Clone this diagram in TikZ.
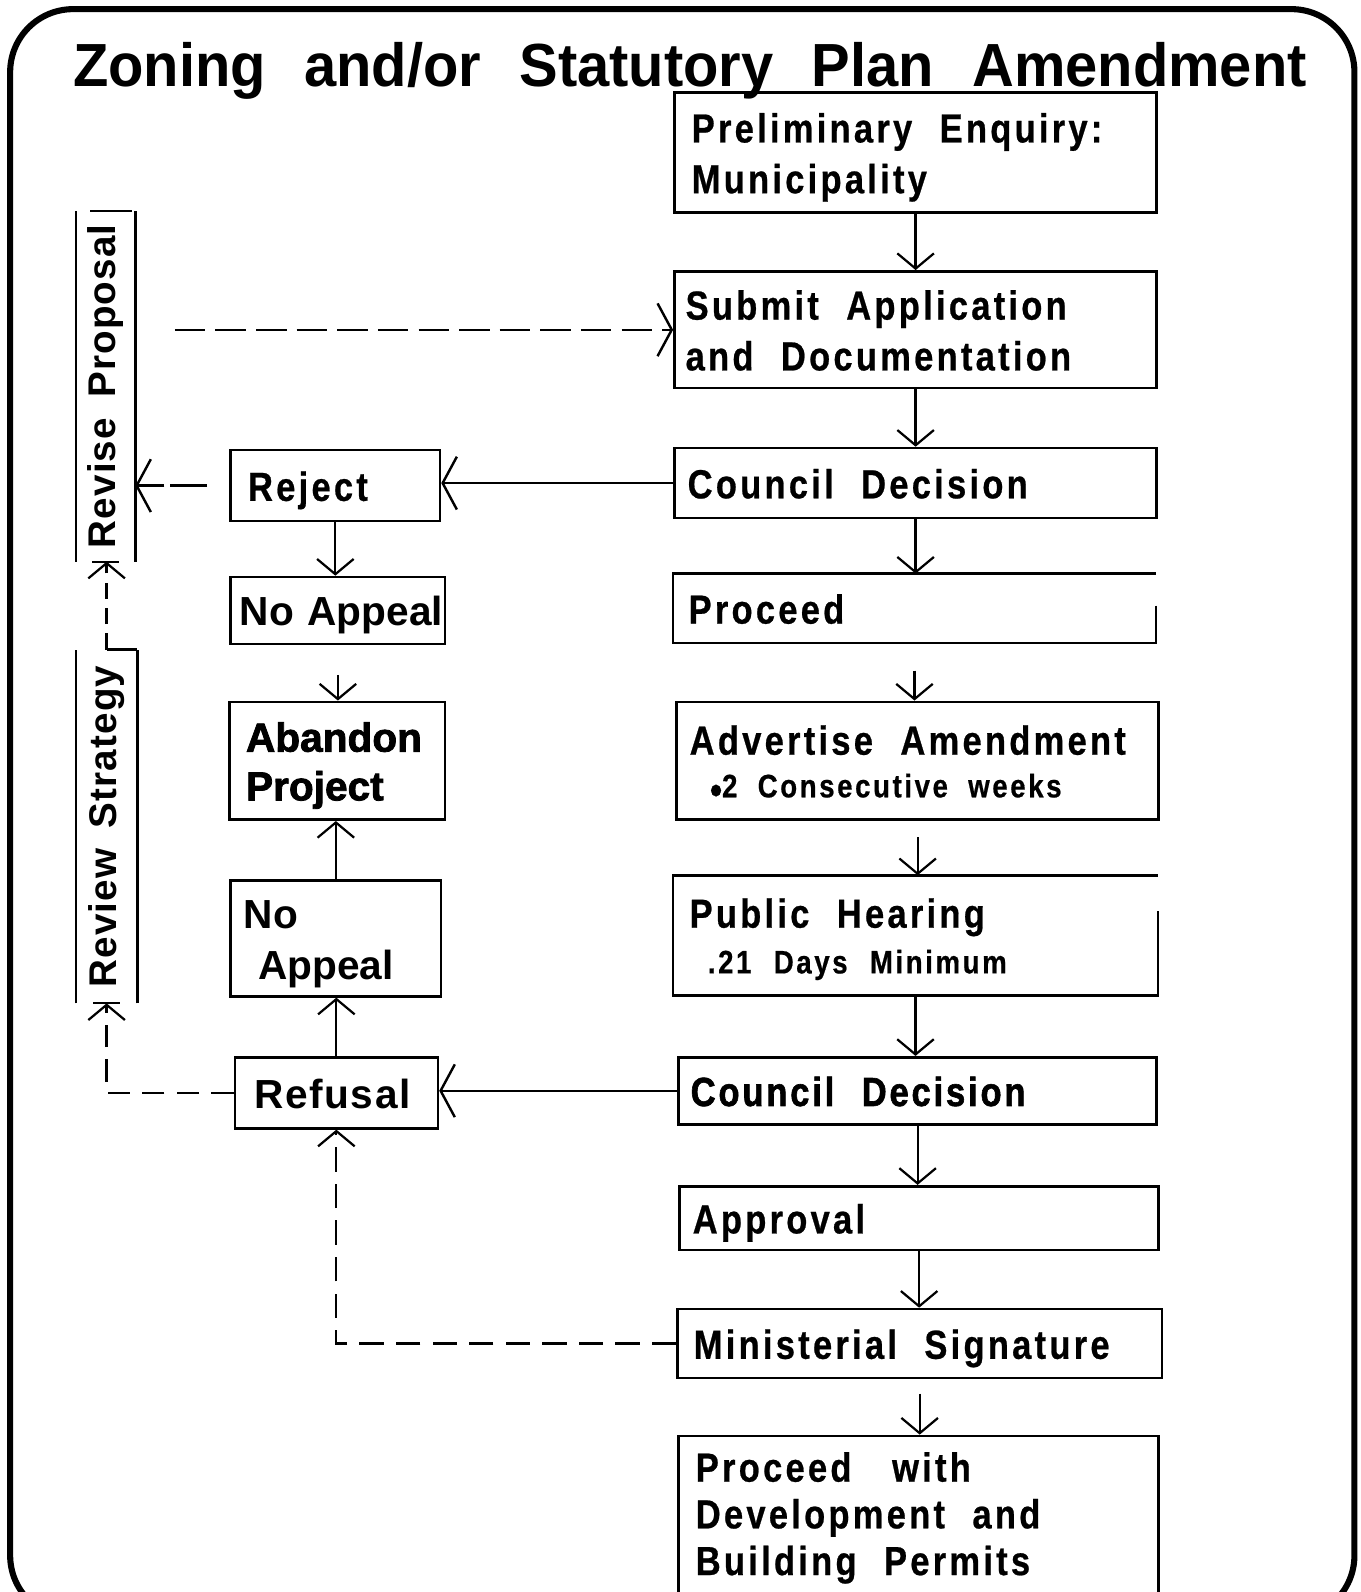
\documentclass[tikz,border=0pt]{standalone}
\usepackage{fontspec}
\setmainfont{Liberation Sans}
\newfontfamily\titlefont[FakeStretch=0.95]{Liberation Sans Bold}
\newfontfamily\condfont[FakeStretch=0.85,LetterSpace=8,FakeBold=0.6]{Liberation Sans Bold}
\newfontfamily\condheavy[FakeStretch=0.85,LetterSpace=7,FakeBold=1.5]{Liberation Sans Bold}
\newfontfamily\widefont{Liberation Sans Bold}
\newfontfamily\spacedfont[LetterSpace=4]{Liberation Sans Bold}
\newfontfamily\heavyfont[FakeBold=2]{Liberation Sans Bold}
\newfontfamily\vertfont[LetterSpace=3]{Liberation Sans Bold}
\usetikzlibrary{arrows.meta,calc}

% one unbreakable line of box text with wide word gaps
\newcommand\wline[2][27pt]{\mbox{\spaceskip=#1 plus 4pt\relax #2}}
% the raised bullet of the sub-lines
\newcommand\dotmark{\raisebox{-6.5pt}{\fontsize{40}{40}\selectfont •}}

\tikzset{
  pbox/.style n args={3}{anchor=north west, inner ysep=0pt, align=left,
    minimum width=#1pt, minimum height=#2pt, inner xsep=#3pt,
    text width={#1pt-2*#3pt}, text depth=0pt,
    execute at begin node={\rule{0pt}{30pt}}},
  edge/.style={draw, line width=2.6pt},
  rfont/.style={font={\condfont\fontsize{40}{50}\selectfont}},
  rheavy/.style={font={\condheavy\fontsize{40}{50}\selectfont}},
  lfont/.style={font={\widefont\fontsize{40}{50}\selectfont}},
  lspaced/.style={font={\spacedfont\fontsize{40}{50}\selectfont}},
  lheavy/.style={font={\heavyfont\fontsize{40}{50}\selectfont}},
  vlabel/.style={rotate=90, inner sep=0pt, minimum height=58pt,
    font={\vertfont\fontsize{38}{40}\selectfont}},
  varr/.style={line width=2.2pt, -{Straight Barb[length=15pt,width=36pt]}},
  harr/.style={line width=2.4pt, -{Straight Barb[length=14pt,width=52pt]}},
  dsh/.style={dash pattern=on 24pt off 12pt},
}

\begin{document}
\begin{tikzpicture}[x=1pt,y=-1pt]
\useasboundingbox (0,0) rectangle (1340,1568);

% outer frame, its lower edge running off the page
\draw[line width=6pt, rounded corners=62pt] (10,9) rectangle (1334,1594);

\node[font={\titlefont\fontsize{60}{72}\selectfont}, anchor=base, inner sep=0pt]
  (title) at (679.5,85) {\makebox[1215pt][s]{Zoning and/or Statutory Plan Amendment}};

% main sequence
\node[pbox={475}{118}{17}, edge, rfont, text depth=50pt] (prelim) at (663,90)
  {\wline{Preliminary Enquiry:}\\\wline{Municipality}};
\node[pbox={475}{115}{11}, edge, rfont, text depth=50pt] (submit) at (663,266)
  {\wline{Submit Application}\\\wline{and Documentation}};
\node[pbox={475}{69}{13}, edge, rfont] (council1) at (663,440) {\wline{Council Decision}};
\node[pbox={475}{68}{15}, rfont] (proceed) at (663,565) {\wline{Proceed}};
\draw[line width=2.6pt] ($(proceed.south east)+(0,-37)$) -- (proceed.south east)
  -- (proceed.south west) -- (proceed.north west) -- (proceed.north east);
\node[pbox={475}{116}{13}, edge, rfont, text depth=42pt] (advertise) at (665,690)
  {\wline{Advertise Amendment}\\[-8pt]\wline[20pt]{\hspace*{20pt}\fontsize{32}{40}\selectfont\dotmark2 Consecutive weeks}};
\node[pbox={477}{118}{16}, rfont, text depth=45pt] (public) at (663,862)
  {\wline{Public Hearing}\\[-5pt]\wline[22pt]{\hspace*{18pt}\fontsize{32}{40}\selectfont .21 Days Minimum}};
\draw[line width=2.6pt] ($(public.south east)+(0,-83)$) -- (public.south east)
  -- (public.south west) -- (public.north west) -- (public.north east);
\node[pbox={471}{66}{12}, edge, rheavy] (council2) at (667,1040) {\wline{Council Decision}};
\node[pbox={472}{63}{13}, edge, rfont] (approval) at (668,1167) {\wline{Approval}};
\node[pbox={477}{68}{16}, edge, rfont] (ministerial) at (666,1288) {\wline{Ministerial Signature}};
% the last box runs on past the lower edge of the page
\node[pbox={473}{200}{17}, edge, rfont, text depth=140pt] (final) at (667,1413)
  {\wline[40pt]{Proceed with}\\[-4pt]\wline{Development and}\\[-4pt]\wline{Building Permits}};

% rejection branch
\node[pbox={206}{70}{17}, edge, rfont] (reject) at (226,442) {\wline{Reject}};
\node[pbox={211}{66}{9}, edge, lfont] (noappealA) at (226,567) {\mbox{No Appeal}};
\node[pbox={212}{116}{16}, edge, lheavy, text depth=48pt] (abandon) at (225,690)
  {\mbox{Abandon}\\[-2pt]\mbox{Project}};
\node[pbox={207}{114}{13}, edge, lfont, text depth=50pt] (noappealB) at (226,866)
  {\mbox{No}\\\mbox{\hspace*{14pt}Appeal}};
\node[pbox={200}{70}{19}, edge, lspaced] (refusal) at (230,1040) {\mbox{Refusal}};

% vertical labels
\node[vlabel, minimum width=345pt] (revise) at (104,380.5) {\wline[20pt]{Revise Proposal}};
\draw[line width=2.6pt] (revise.north west) -- (revise.north east);
\draw[line width=2.6pt] (revise.south west) -- (revise.south east);
\draw[line width=2.2pt] ($(revise.north east)!0.24!(revise.south east)$) -- ($(revise.north east)!0.95!(revise.south east)$);
\draw[line width=2.2pt] ($(revise.west)+(-13,0)$) -- ($(revise.west)+(13,0)$);

\node[vlabel, minimum width=348pt, minimum height=60pt] (review) at (105,814) {\wline[20pt]{Review Strategy}};
\draw[line width=2.6pt] (review.north west) -- (review.north east);
\draw[line width=2.6pt] (review.south west) -- (review.south east);
\draw[line width=2.2pt] (review.east) -- (review.south east);
\draw[line width=2.2pt] ($(review.west)+(-13,0)$) -- ($(review.west)+(13,0)$);

% main flow
\draw[varr] (prelim.south) -- (prelim.south |- submit.north);
\draw[varr] (submit.south) -- (submit.south |- council1.north);
\draw[varr] (council1.south) -- (council1.south |- proceed.north);
\draw[varr, shorten <=27pt] (proceed.south) -- (proceed.south |- advertise.north);
\draw[varr, shorten <=16pt] (advertise.south) -- (advertise.south |- public.north);
\draw[varr] (public.south) -- (public.south |- council2.north);
\draw[varr] (council2.south) -- (council2.south |- approval.north);
\draw[varr] (approval.south) -- (approval.south |- ministerial.north);
\draw[varr, shorten <=14pt] (ministerial.south) -- (ministerial.south |- final.north);

% branches
\draw[harr] (council1.west) -- (council1.west -| reject.east);
\draw[varr] (reject.south) -- (reject.south |- noappealA.north);
\draw[varr, shorten <=29pt] (noappealA.south) -- (noappealA.south |- abandon.north);
\draw[varr] (noappealB.north) -- (noappealB.north |- abandon.south);
\draw[varr] (refusal.north) -- (refusal.north |- noappealB.south);
\draw[harr] (council2.west) -- (council2.west -| refusal.east);

% return paths
\draw[varr, dsh] (ministerial.west) -| (refusal.south);
\draw[varr, dash pattern=on 22pt off 12pt] (refusal.west) -| (review.west);
\draw[varr, dash pattern=on 16pt off 9pt] (review.east) -- (review.east |- revise.west);
\draw[harr, dash pattern=on 37pt off 5pt, shorten <=22pt] (reject.west) -- (reject.west -| revise.south);
\draw[harr, dash pattern=on 30pt off 10pt, shorten <=39pt] (revise.south |- submit.west) -- (submit.west);
\end{tikzpicture}
\end{document}
